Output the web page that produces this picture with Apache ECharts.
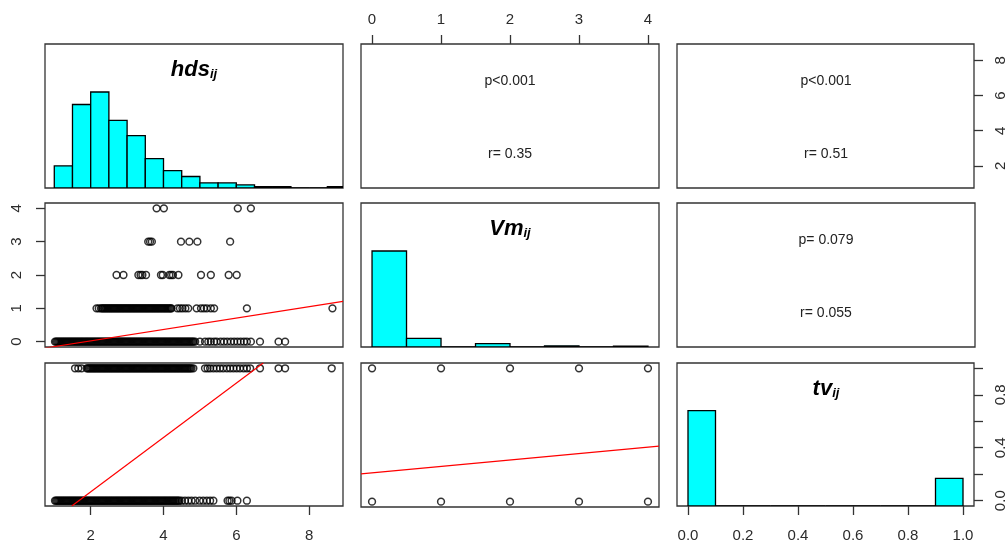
<!DOCTYPE html>
<html><head><meta charset="utf-8">
<script src="https://cdn.jsdelivr.net/npm/echarts@6/dist/echarts.min.js"></script>
<style>html,body{margin:0;padding:0;background:#fff}#c{width:1008px;height:543px}</style>
</head><body><div id="c"></div>
<script>
// ---------------- DATA ----------------
const varLabels = ['hds', 'Vm', 'tv'];
const hdsRange = [0.745, 8.93];
const vmRange = [-0.16, 4.16];
const tvRange = [-0.04, 1.04];

const hdsTicks = [2, 4, 6, 8];
const vmTicks = [0, 1, 2, 3, 4];
const tvTicks = [0, 0.2, 0.4, 0.6, 0.8, 1.0];
const tvRightLabels = [0, 0.4, 0.8];

// histograms (bar heights relative to tallest bar)
const hdsBreaks = [1, 1.5, 2, 2.5, 3, 3.5, 4, 4.5, 5, 5.5, 6, 6.5, 7, 7.5, 8, 8.5, 9];
const hdsHeights = [0.23, 0.87, 1.0, 0.705, 0.545, 0.305, 0.18, 0.12, 0.053, 0.053, 0.032, 0.015, 0.015, 0, 0, 0.015];
const vmBreaks = [0, 0.5, 1, 1.5, 2, 2.5, 3, 3.5, 4];
const vmHeights = [1.0, 0.09, 0, 0.035, 0, 0.012, 0, 0.01];
const tvBreaks = [0, 0.1, 0.2, 0.3, 0.4, 0.5, 0.6, 0.7, 0.8, 0.9, 1.0];
const tvHeights = [1.0, 0, 0, 0, 0, 0, 0, 0, 0, 0.29];

// scatter: hds values at each Vm level
const vmLevels = [0, 1, 2, 3, 4];
const hdsAtVm0 = [1.02,1.05,1.08,1.11,1.14,1.17,1.2,1.23,1.26,1.29,1.32,1.35,1.38,1.41,1.44,1.47,1.5,1.53,1.56,1.59,1.62,1.65,1.68,1.71,1.74,1.77,1.8,1.83,1.86,1.89,1.92,1.95,1.98,2.01,2.04,2.07,2.1,2.13,2.16,2.19,2.22,2.25,2.28,2.31,2.34,2.37,2.4,2.43,2.46,2.49,2.52,2.55,2.58,2.61,2.64,2.67,2.7,2.73,2.76,2.79,2.82,2.85,2.88,2.91,2.94,2.97,3.0,3.03,3.06,3.09,3.12,3.15,3.18,3.21,3.24,3.27,3.3,3.33,3.36,3.39,3.42,3.45,3.48,3.51,3.54,3.57,3.6,3.63,3.66,3.69,3.72,3.75,3.78,3.81,3.84,3.87,3.9,3.93,3.96,3.99,4.02,4.05,4.08,4.11,4.14,4.17,4.2,4.23,4.26,4.29,4.32,4.35,4.38,4.41,4.44,4.47,4.5,4.53,4.56,4.59,4.62,4.65,4.68,4.71,4.74,4.77,4.8,4.83,4.87,
  5.00,5.14,5.23,5.30,5.39,5.46,5.57,5.66,5.75,5.85,5.94,6.03,6.12,6.21,6.29,6.40,6.65,7.16,7.34];
const hdsAtVm1 = [2.16,2.22,2.28,2.31,2.34,2.37,2.4,2.43,2.46,2.49,2.52,2.55,2.58,2.61,2.64,2.67,2.7,2.73,2.76,2.79,2.82,2.85,2.88,2.91,2.94,2.97,3.0,3.03,3.06,3.09,3.12,3.15,3.18,3.21,3.24,3.27,3.3,3.33,3.36,3.39,3.42,3.45,3.48,3.51,3.54,3.57,3.6,3.63,3.66,3.69,3.72,3.75,3.78,3.81,3.84,3.87,3.9,3.93,3.96,3.99,4.02,4.05,4.08,4.11,4.14,4.17,4.2,4.22,
  4.38,4.45,4.52,4.60,4.68,4.91,5.03,5.11,5.19,5.30,5.39,6.29,8.64];
const hdsAtVm2 = [2.71,2.90,3.31,3.37,3.42,3.52,3.93,3.98,4.16,4.21,4.26,4.41,5.03,5.30,5.79,6.01];
const hdsAtVm3 = [3.58,3.63,3.68,4.48,4.71,4.93,5.83];
const hdsAtVm4 = [3.81,4.01,6.04,6.40];

// scatter: hds values at each tv level
const tvLevels = [0, 1];
const hdsAtTv0 = [1.02,1.05,1.08,1.11,1.14,1.17,1.2,1.23,1.26,1.29,1.32,1.35,1.38,1.41,1.44,1.47,1.5,1.53,1.56,1.59,1.62,1.65,1.68,1.71,1.74,1.77,1.8,1.83,1.86,1.89,1.92,1.95,1.98,2.01,2.04,2.07,2.1,2.13,2.16,2.19,2.22,2.25,2.28,2.31,2.34,2.37,2.4,2.43,2.46,2.49,2.52,2.55,2.58,2.61,2.64,2.67,2.7,2.73,2.76,2.79,2.82,2.85,2.88,2.91,2.94,2.97,3.0,3.03,3.06,3.09,3.12,3.15,3.18,3.21,3.24,3.27,3.3,3.33,3.36,3.39,3.42,3.45,3.48,3.51,3.54,3.57,3.6,3.63,3.66,3.69,3.72,3.75,3.78,3.81,3.84,3.87,3.9,3.93,3.96,3.99,4.02,4.05,4.08,4.11,4.14,4.17,4.2,4.23,4.26,4.29,4.32,4.35,4.38,4.41,4.44,
  4.50,4.59,4.68,4.77,4.87,4.99,5.09,5.19,5.28,5.37,5.76,5.81,5.87,6.03,6.29];
const hdsAtTv1 = [1.57,1.66,1.75,1.89,1.92,1.95,1.98,2.01,2.04,2.07,2.1,2.13,2.16,2.19,2.22,2.25,2.28,2.31,2.34,2.37,2.4,2.43,2.46,2.49,2.52,2.55,2.58,2.61,2.64,2.67,2.7,2.73,2.76,2.79,2.82,2.85,2.88,2.91,2.94,2.97,3.0,3.03,3.06,3.09,3.12,3.15,3.18,3.21,3.24,3.27,3.3,3.33,3.36,3.39,3.42,3.45,3.48,3.51,3.54,3.57,3.6,3.63,3.66,3.69,3.72,3.75,3.78,3.81,3.84,3.87,3.9,3.93,3.96,3.99,4.02,4.05,4.08,4.11,4.14,4.17,4.2,4.23,4.26,4.29,4.32,4.35,4.38,4.41,4.44,4.47,4.5,4.53,4.56,4.59,4.62,4.65,4.68,4.71,4.74,4.77,4.82,
  5.14,5.21,5.28,5.37,5.46,5.55,5.64,5.74,5.83,5.92,6.01,6.10,6.20,6.29,6.38,6.65,7.16,7.34,8.62];

// scatter: Vm values at each tv level
const vmAtTv0 = [0, 1, 2, 3, 4];
const vmAtTv1 = [0, 1, 2, 3, 4];

// fitted lines (end points)
const fitHdsVm = [[0.745, -0.19], [8.93, 1.21]];
const fitHdsTv = [[1.48, -0.04], [6.74, 1.04]];
const fitVmTv = [[-0.16, 0.209], [4.16, 0.416]];

// correlation texts (upper panels)
const corrText = {
  '0-1': ['p<0.001', 'r= 0.35'],
  '0-2': ['p<0.001', 'r= 0.51'],
  '1-2': ['p= 0.079', 'r= 0.055']
};

// ---------------- LAYOUT ----------------
const colLeft = [45, 361, 677];
const rowTop = [44, 203, 363];
const PW = 298, PH = 144;
const ranges = [hdsRange, vmRange, tvRange];
const FONT = '"Liberation Sans", Arial, sans-serif';
const LBL = { fontSize: 15, color: '#2b2b2b', fontFamily: FONT };
const TICK = { length: 9, lineStyle: { color: '#333', width: 1.3 } };

const grids = [], xAxes = [], yAxes = [];
for (let r = 0; r < 3; r++) {
  for (let c = 0; c < 3; c++) {
    const g = r * 3 + c;
    grids.push({ left: colLeft[c], top: rowTop[r], width: PW, height: PH, show: true,
      borderColor: '#333', borderWidth: 1.3, backgroundColor: 'transparent' });
    xAxes.push({ type: 'value', gridIndex: g, min: ranges[c][0], max: ranges[c][1],
      axisLine: { show: false, onZero: false }, axisTick: { show: false }, axisLabel: { show: false }, splitLine: { show: false } });
    const yr = (r === c) ? [0, 1.5] : ranges[r];
    yAxes.push({ type: 'value', gridIndex: g, min: yr[0], max: yr[1],
      axisLine: { show: false, onZero: false }, axisTick: { show: false }, axisLabel: { show: false }, splitLine: { show: false } });
  }
}
function showX(g, pos, ticks, labels, fmt, margin) {
  Object.assign(xAxes[g], { position: pos,
    axisTick: Object.assign({ show: true, customValues: ticks }, TICK),
    axisLabel: Object.assign({ show: true, customValues: labels, margin: margin, formatter: fmt }, LBL) });
}
function showY(ax, pos, ticks, labels, fmt, margin) {
  Object.assign(ax, { position: pos,
    axisTick: Object.assign({ show: true, customValues: ticks }, TICK),
    axisLabel: Object.assign({ show: true, customValues: labels, margin: margin, rotate: 90, formatter: fmt }, LBL) });
}
const intFmt = v => String(Math.round(v));
const oneDec = v => Number(v).toFixed(1);
showX(6, 'bottom', hdsTicks, hdsTicks, intFmt, 22);
showX(1, 'top', vmTicks, vmTicks, intFmt, 17);
showX(8, 'bottom', tvTicks, tvTicks, oneDec, 22);
showY(yAxes[3], 'left', vmTicks, vmTicks, intFmt, 21);
showY(yAxes[2], 'right', hdsTicks, hdsTicks, intFmt, 19);
const tvRightAxis = { type: 'value', gridIndex: 8, min: tvRange[0], max: tvRange[1],
  axisLine: { show: false, onZero: false }, splitLine: { show: false } };
showY(tvRightAxis, 'right', tvTicks, tvRightLabels, oneDec, 19);
yAxes.push(tvRightAxis);

// ---------------- SERIES ----------------
function histSeries(g, breaks, heights) {
  const data = heights.map((h, i) => [breaks[i], breaks[i + 1], h]);
  return { type: 'custom', xAxisIndex: g, yAxisIndex: g, clip: true, data,
    encode: { x: [0, 1], y: 2 },
    renderItem: (params, api) => {
      const p0 = api.coord([api.value(0), 0]);
      const p1 = api.coord([api.value(1), api.value(2)]);
      return { type: 'rect', shape: { x: p0[0], y: p1[1], width: p1[0] - p0[0], height: p0[1] - p1[1] },
        style: { fill: '#00FFFF', stroke: '#000', lineWidth: 1.3 } };
    } };
}
function scatterSeries(g, data) {
  return { type: 'scatter', xAxisIndex: g, yAxisIndex: g, data, symbol: 'circle', symbolSize: 6.8,
    itemStyle: { color: 'rgba(0,0,0,0)', borderColor: '#000', borderWidth: 1.5 }, silent: true };
}
function lineSeries(g, data) {
  return { type: 'line', xAxisIndex: g, yAxisIndex: g, data, symbol: 'none', clip: true, z: 5,
    lineStyle: { color: '#FF0000', width: 1.2 }, silent: true };
}
const hdsVmData = [];
[hdsAtVm0, hdsAtVm1, hdsAtVm2, hdsAtVm3, hdsAtVm4].forEach((arr, i) => arr.forEach(x => hdsVmData.push([x, vmLevels[i]])));
const hdsTvData = [];
[hdsAtTv0, hdsAtTv1].forEach((arr, i) => arr.forEach(x => hdsTvData.push([x, tvLevels[i]])));
const vmTvData = [];
[vmAtTv0, vmAtTv1].forEach((arr, i) => arr.forEach(x => vmTvData.push([x, tvLevels[i]])));

const series = [
  histSeries(0, hdsBreaks, hdsHeights),
  histSeries(4, vmBreaks, vmHeights),
  histSeries(8, tvBreaks, tvHeights),
  scatterSeries(3, hdsVmData), lineSeries(3, fitHdsVm),
  scatterSeries(6, hdsTvData), lineSeries(6, fitHdsTv),
  scatterSeries(7, vmTvData), lineSeries(7, fitVmTv)
];

// ---------------- TEXT ----------------
const graphic = [];
for (let i = 0; i < 3; i++) {
  graphic.push({ type: 'text', x: colLeft[i] + PW / 2, y: rowTop[i] + 24, z: 10,
    style: { text: '{m|' + varLabels[i] + '}{s|ij}', align: 'center', verticalAlign: 'middle',
      rich: {
        m: { fontSize: 22, fontWeight: 'bold', fontStyle: 'italic', fontFamily: FONT, fill: '#000', lineHeight: 26, verticalAlign: 'bottom' },
        s: { fontSize: 13, fontWeight: 'bold', fontStyle: 'italic', fontFamily: FONT, fill: '#000', lineHeight: 20, verticalAlign: 'bottom' }
      } } });
}
Object.keys(corrText).forEach(k => {
  const [r, c] = k.split('-').map(Number);
  corrText[k].forEach((t, j) => {
    graphic.push({ type: 'text', x: colLeft[c] + PW / 2, y: rowTop[r] + (j === 0 ? 37 : 110),
      style: { text: t, align: 'center', verticalAlign: 'middle', fontSize: 14, fontFamily: FONT, fill: '#222' } });
  });
});

const chart = echarts.init(document.getElementById('c'), null, { renderer: 'canvas' });
chart.setOption({ animation: false, backgroundColor: '#fff', grid: grids, xAxis: xAxes, yAxis: yAxes, series, graphic });
</script></body></html>
